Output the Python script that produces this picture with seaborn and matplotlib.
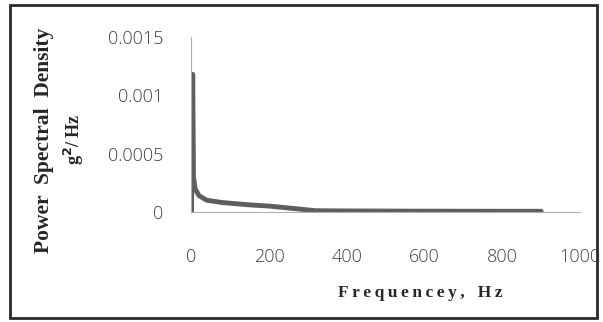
import numpy as np
import pandas as pd
from matplotlib import pyplot as plt
from matplotlib.patches import Rectangle
import seaborn as sns

# PSD curve
freq = [1, 4, 6, 10, 20, 40, 80, 150, 200, 260, 320, 400, 600, 800, 900]
psd = [0.0, 0.00118, 0.0003, 0.0002, 0.00014, 0.0001, 0.00008, 0.00006,
       0.00005, 0.00003, 0.00001, 0.000008, 0.000006, 0.000005, 0.000005]
x_ticks = [0, 200, 400, 600, 800, 1000]
y_ticks = [0, 0.0005, 0.001, 0.0015]
y_tick_labels = ['0', '0.0005', '0.001', '0.0015']

df = pd.DataFrame({'freq': freq, 'psd': psd})

sns.set_style("white")
fig = plt.figure(figsize=(6.03, 3.22), dpi=100)
ax = fig.add_axes([0.317, 0.342, 0.645, 0.543])

sns.lineplot(data=df, x='freq', y='psd', ax=ax, color='#5e5e5e', linewidth=3.5)

ax.set_xlim(0, 1000)
ax.set_ylim(0, 0.0015)
ax.set_xticks(x_ticks)
ax.set_xticklabels([str(t) for t in x_ticks])
ax.set_yticks(y_ticks)
ax.set_yticklabels(y_tick_labels)
ax.tick_params(axis='x', length=0, pad=26, labelsize=13, colors='#404040')
ax.tick_params(axis='y', length=0, pad=20, labelsize=13, colors='#404040')
for lab in ax.get_xticklabels() + ax.get_yticklabels():
    lab.set_family('Open Sans')
    lab.set_fontweight('light')

sns.despine(ax=ax)
ax.spines['left'].set_color('#b0b0b0')
ax.spines['bottom'].set_color('#b0b0b0')
ax.spines['left'].set_linewidth(0.8)
ax.spines['bottom'].set_linewidth(0.8)
ax.set_xlabel('')
ax.set_ylabel('')

# axis titles (bold serif, letter spaced like the scan)
def spaced(s):
    return '\u2009'.join(s).replace('\u2009 \u2009', '   ')

fig.text(420 / 603, 1 - 293 / 322, spaced('Frequencey,') + '   ' + spaced('Hz'),
         ha='center', va='center', fontsize=12.5, fontweight='bold',
         family='Liberation Serif')
fig.text(44 / 603, 1 - 140 / 322, 'Power  Spectral  Density',
         rotation=90, ha='center', va='center', fontsize=15.5, fontweight='bold',
         family='Liberation Serif')
fig.text(74 / 603, 1 - 139 / 322, 'g$^{\\mathbf{2}}$/ Hz', rotation=90,
         ha='center', va='center', fontsize=13, fontweight='bold',
         family='Liberation Serif')

# frame around the whole figure
fig.patches.append(Rectangle((10 / 603, 4 / 322), 587 / 603, 313 / 322,
                             transform=fig.transFigure, fill=False,
                             edgecolor='#2a2a2a', linewidth=2))

plt.savefig('out.png', dpi=100)
